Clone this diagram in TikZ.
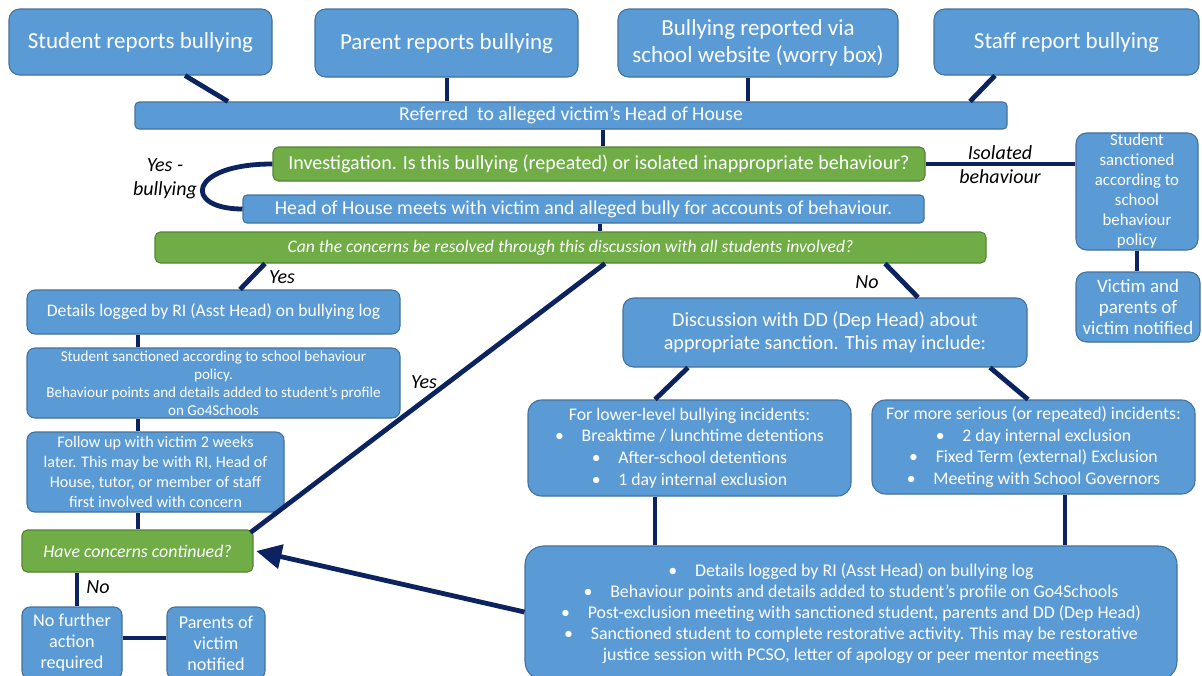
\documentclass[tikz,border=0pt]{standalone}
\usepackage{fontspec}
\setmainfont{Carlito}
\usetikzlibrary{arrows.meta,calc}
\definecolor{boxblue}{RGB}{91,155,213}
\definecolor{boxedge}{RGB}{65,113,156}
\definecolor{boxgreen}{RGB}{112,173,71}
\definecolor{greenedge}{RGB}{84,130,53}
\definecolor{navy}{RGB}{12,35,95}
\tikzset{
  wh/.style 2 args={minimum width=#1*0.75pt, minimum height=#2*0.75pt},
  bluebox/.style={draw=boxedge, line width=0.8pt, fill=boxblue, text=white, align=center, rounded corners=6pt, inner sep=1pt},
  greenbox/.style={draw=greenedge, line width=0.8pt, fill=boxgreen, text=white, align=center, rounded corners=4pt, inner sep=1pt},
  conn/.style={draw=navy, line width=3.6pt},
  lbl/.style={font=\fontsize{15pt}{18pt}\selectfont\itshape, align=center, text=black, inner sep=0pt},
}
\begin{document}
\begin{tikzpicture}[x=0.75pt,y=-0.75pt]
\useasboundingbox (0,0) rectangle (1202,675);
% top row
\node[bluebox, wh={263}{66}, rounded corners=8pt, font=\fontsize{17.25pt}{20pt}\selectfont] (stud) at (140.5,42) {Student reports bullying};
\node[bluebox, wh={263}{68}, rounded corners=8pt, font=\fontsize{17.25pt}{20pt}\selectfont] (par) at (446.5,43) {Parent reports bullying};
\node[bluebox, wh={280}{68}, rounded corners=8pt, font=\fontsize{17.25pt}{20pt}\selectfont] (web) at (758,43) {Bullying reported via\\school website (worry box)};
\node[bluebox, wh={265}{66}, rounded corners=8pt, font=\fontsize{17.25pt}{20pt}\selectfont] (staff) at (1066.5,42) {Staff report bullying};
% referred
\node[bluebox, wh={872}{27}, rounded corners=3pt, font=\fontsize{14.8pt}{16pt}\selectfont] (ref) at (571,115.5) {Referred\ \ to alleged victim’s Head of House};
\node[greenbox, wh={652}{34}, font=\fontsize{15pt}{16pt}\selectfont] (inv) at (599,164) {Investigation. Is this bullying (repeated) or isolated inappropriate behaviour?};
\node[bluebox, wh={681}{28}, rounded corners=3pt, font=\fontsize{14.8pt}{16pt}\selectfont] (hoh) at (583.5,209) {Head of House meets with victim and alleged bully for accounts of behaviour.};
\node[greenbox, wh={831}{31}, font=\fontsize{13.2pt}{14pt}\selectfont\itshape] (can) at (570.5,247.5) {Can the concerns be resolved through this discussion with all students involved?};
% right column
\node[bluebox, wh={122}{117}, rounded corners=8pt, font=\fontsize{12.6pt}{15pt}\selectfont] (ssr) at (1137,191.5) {Student\\sanctioned\\according to\\school\\behaviour\\policy};
\node[bluebox, wh={124}{70}, rounded corners=8pt, font=\fontsize{14.2pt}{16pt}\selectfont] (vpn) at (1138,307) {Victim and\\parents of\\victim notified};
% left column
\node[bluebox, wh={373}{44}, font=\fontsize{13.2pt}{15pt}\selectfont] (dl) at (213.5,312) {Details logged by RI (Asst Head) on bullying log};
\node[bluebox, wh={373}{70}, font=\fontsize{11.3pt}{13.5pt}\selectfont] (ssl) at (213.5,383) {Student sanctioned according to school behaviour\\policy.\\Behaviour points and details added to student’s profile\\on Go4Schools};
\node[bluebox, wh={257}{80}, font=\fontsize{12.1pt}{15pt}\selectfont] (fu) at (155.5,472) {Follow up with victim 2 weeks\\later. This may be with RI, Head of\\House, tutor, or member of staff\\first involved with concern};
\node[greenbox, wh={231}{42}, font=\fontsize{13.4pt}{14pt}\selectfont\itshape] (hcc) at (137.5,551) {Have concerns continued?};
\node[bluebox, wh={100}{72}, font=\fontsize{13.6pt}{15.75pt}\selectfont] (nfa) at (72,643) {No further\\action\\required};
\node[bluebox, wh={98}{72}, font=\fontsize{13.6pt}{15.75pt}\selectfont] (pvn) at (216,643) {Parents of\\victim\\notified};
% middle / right lower
\node[bluebox, wh={404}{69}, rounded corners=8pt, font=\fontsize{15.1pt}{17.25pt}\selectfont] (disc) at (825,332.5) {Discussion with DD (Dep Head) about\\appropriate sanction. This may include:};
\node[bluebox, wh={323}{96}, rounded corners=10pt, font=\fontsize{13.3pt}{16.2pt}\selectfont] (low) at (689.5,448) {For lower-level bullying incidents:\\•\quad Breaktime / lunchtime detentions\\•\quad After-school detentions\\•\quad 1 day internal exclusion};
\node[bluebox, wh={323}{94}, rounded corners=10pt, font=\fontsize{13.3pt}{16.2pt}\selectfont] (ser) at (1033.5,447) {For more serious (or repeated) incidents:\\•\quad 2 day internal exclusion\\•\quad Fixed Term (external) Exclusion\\•\quad Meeting with School Governors};
\node[bluebox, wh={652}{134}, rounded corners=14pt, font=\fontsize{13.4pt}{15.75pt}\selectfont] (bot) at (851,613) {•\quad Details logged by RI (Asst Head) on bullying log\\•\quad Behaviour points and details added to student’s profile on Go4Schools\\•\quad Post-exclusion meeting with sanctioned student, parents and DD (Dep Head)\\•\quad Sanctioned student to complete restorative activity. This may be restorative\\justice session with PCSO, letter of apology or peer mentor meetings};
% connectors
\draw[conn] (185,0 |- stud.south) -- (228,0 |- ref.north);
\draw[conn] (447,0 |- par.south) -- (447,0 |- ref.north);
\draw[conn] (748,0 |- web.south) -- (748,0 |- ref.north);
\draw[conn] (995,0 |- staff.south) -- (970,0 |- ref.north);
\draw[conn] (603,0 |- ref.south) -- (603,0 |- inv.north);
\draw[conn] (inv.west) .. controls +(-85,0) and +(-60,0) .. (hoh.west);
\draw[conn] (600,0 |- hoh.south) -- (600,0 |- can.north);
\draw[conn] (inv.east) -- (inv.east -| ssr.west);
\draw[conn] (ssr.south) -- (ssr.south |- vpn.north);
\draw[conn] (265,0 |- can.south) -- (240,0 |- dl.north);
\draw[conn] (605,0 |- can.south) -- ([shift={(-3,3)}]hcc.north east);
\draw[conn] (885,0 |- can.south) -- (918,0 |- disc.north);
\draw[conn] (138,0 |- dl.south) -- (138,0 |- ssl.north);
\draw[conn] (138,0 |- ssl.south) -- (138,0 |- fu.north);
\draw[conn] (138,0 |- fu.south) -- (138,0 |- hcc.north);
\draw[conn] (77,0 |- hcc.south) -- (77,0 |- nfa.north);
\draw[conn] (nfa.east |- 0,638) -- (pvn.west |- 0,638);
\draw[conn] (688,0 |- disc.south) -- (655,0 |- low.north);
\draw[conn] (990,0 |- disc.south) -- (1028,0 |- ser.north);
\draw[conn] (655,0 |- low.south) -- (655,0 |- bot.north);
\draw[conn] (1065,0 |- ser.south) -- (1065,0 |- bot.north);
\draw[conn, -{Triangle[length=19pt,width=18pt]}] (bot.west |- 0,612) -- ([xshift=2pt]hcc.east);
% labels
\node[lbl] (lyb) at (165,179) {Yes -\\bullying};
\node[lbl] (liso) at (1000,165) {Isolated\\behaviour};
\node[lbl] (ly1) at (282,277) {Yes};
\node[lbl] (ly2) at (424,382) {Yes};
\node[lbl] (ln1) at (867,282) {No};
\node[lbl] (ln2) at (98,587) {No};
\end{tikzpicture}
\end{document}
